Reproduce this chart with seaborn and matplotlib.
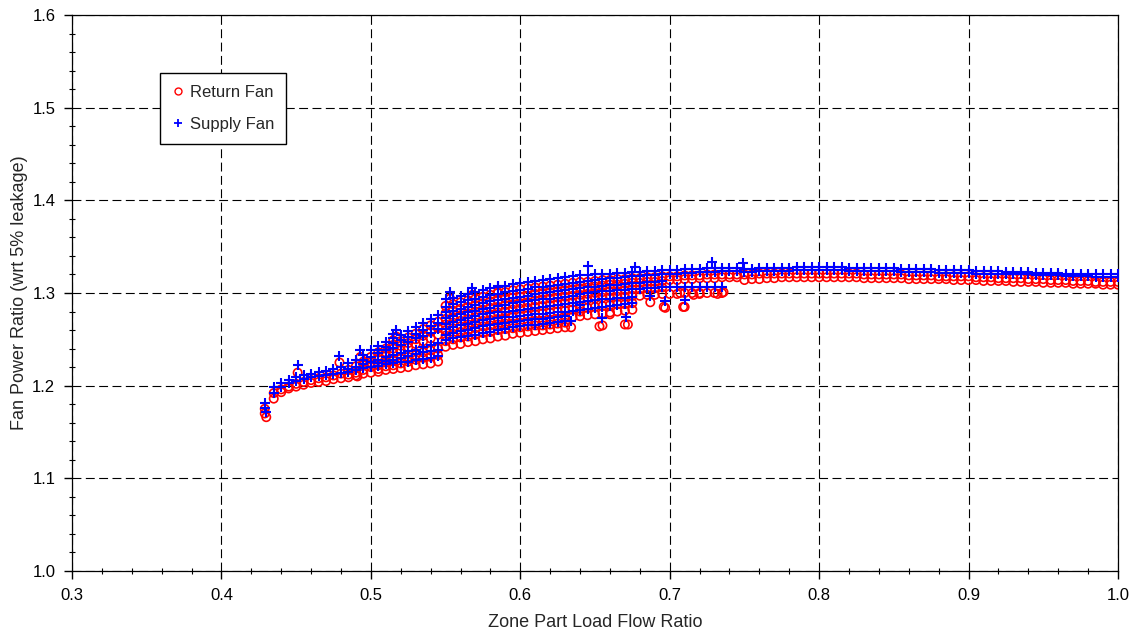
import matplotlib
matplotlib.use("Agg")
import matplotlib.pyplot as plt
from matplotlib.lines import Line2D
from matplotlib.ticker import MultipleLocator, FormatStrFormatter
import seaborn as sns
import pandas as pd

# ---------------- data ----------------
X_LEFT = [0.430, 0.435, 0.440, 0.445, 0.450, 0.455, 0.460, 0.465, 0.470, 0.475, 0.480, 0.485,
          0.490, 0.495, 0.500, 0.505, 0.510, 0.515, 0.520, 0.525, 0.530, 0.535, 0.540, 0.545]
X_MID = [0.550, 0.555, 0.560, 0.565, 0.570, 0.575, 0.580, 0.585, 0.590, 0.595,
         0.600, 0.605, 0.610, 0.615, 0.620, 0.625, 0.630, 0.635, 0.640, 0.645,
         0.650, 0.655, 0.660, 0.665, 0.670, 0.675, 0.680, 0.685, 0.690, 0.695,
         0.700, 0.705, 0.710, 0.715, 0.720, 0.725, 0.730, 0.735, 0.740, 0.745]
X_TAIL = [0.750, 0.755, 0.760, 0.765, 0.770, 0.775, 0.780, 0.785, 0.790, 0.795,
          0.800, 0.805, 0.810, 0.815, 0.820, 0.825, 0.830, 0.835, 0.840, 0.845,
          0.850, 0.855, 0.860, 0.865, 0.870, 0.875, 0.880, 0.885, 0.890, 0.895,
          0.900, 0.905, 0.910, 0.915, 0.920, 0.925, 0.930, 0.935, 0.940, 0.945,
          0.950, 0.955, 0.960, 0.965, 0.970, 0.975, 0.980, 0.985, 0.990, 0.995, 1.000]
N = None

# Return fan
RET_LEFT_1 = [1.166, 1.186, 1.193, 1.197, 1.199, 1.201, 1.203, 1.204, 1.205, 1.207, 1.208, 1.209,
              1.211, 1.213, 1.214, 1.215, 1.217, 1.218, 1.219, 1.220, 1.222, 1.223, 1.224, 1.226]
RET_LEFT_2 = [N, N, N, N, N, N, N, N, N, N, N, 1.212,
              1.214, 1.217, 1.220, 1.222, 1.225, 1.227, 1.229, 1.231, 1.233, 1.236, 1.238, 1.240]
RET_LEFT_3 = [N, N, N, N, N, N, N, N, N, N, N, N,
              N, 1.222, 1.225, 1.229, 1.232, 1.235, 1.238, 1.241, 1.245, 1.248, 1.251, 1.255]
RET_LEFT_4 = [N, 1.192, 1.196, 1.199, 1.202, 1.204, 1.206, 1.208, 1.209, 1.211, 1.213, 1.217,
              1.221, 1.226, 1.231, 1.236, 1.240, 1.244, 1.248, 1.252, 1.256, 1.261, 1.265, 1.269]
RET_LEFT_5 = [N, N, N, N, N, N, N, N, N, N, N, N, N, N, N,
              1.218, 1.221, 1.222, 1.224, 1.226, 1.228, 1.230, 1.231, 1.233]
RET_LEFT_6 = [N, N, N, N, N, N, N, N, N, N, N, N, N, N, N,
              1.232, 1.236, 1.240, 1.243, 1.246, 1.250, 1.254, 1.258, 1.262]

RET_MID_1 = [1.242, 1.244, 1.245, 1.247, 1.248, 1.250, 1.251, 1.253, 1.254, 1.256,
             1.257, 1.258, 1.259, 1.260, 1.261, 1.262, 1.263]
RET_MID_1B = [1.248, 1.250, 1.252, 1.253, 1.255, 1.257, 1.258, 1.260, 1.261, 1.262,
              1.263, 1.264, 1.265, 1.265, 1.266, 1.267, 1.268]
RET_MID_2 = [1.254, 1.256, 1.258, 1.260, 1.262, 1.264, 1.265, 1.266, 1.267, 1.267,
             1.268, 1.269, 1.270, 1.270, 1.271, 1.272, 1.273, 1.274, 1.275, 1.276,
             1.277, 1.278, 1.279, 1.280, 1.281, 1.282]
RET_MID_2B = [1.260, 1.262, 1.264, 1.266, 1.268, 1.270, 1.271, 1.272, 1.273, 1.274,
              1.275, 1.276, 1.277, 1.278, 1.279, 1.280, 1.281, 1.282, 1.283, 1.284,
              1.285, 1.286, 1.287, 1.288, 1.288, 1.289]
RET_MID_3 = [1.266, 1.268, 1.270, 1.272, 1.274, 1.276, 1.277, 1.279, 1.280, 1.282,
             1.283, 1.284, 1.285, 1.286, 1.287, 1.288, 1.289, 1.290, 1.292, 1.293,
             1.294, 1.295, 1.295, 1.296, 1.296, 1.297, 1.297, 1.298, 1.298, 1.299,
             1.299, 1.299, 1.300, 1.300, 1.300, 1.300, 1.300, 1.300]
RET_MID_3B = [1.272, 1.274, 1.276, 1.278, 1.280, 1.282, 1.284, 1.285, 1.287, 1.288,
              1.289, 1.290, 1.292, 1.293, 1.294, 1.295, 1.296, 1.297, 1.298, 1.299,
              1.300, 1.301, 1.302, 1.302, 1.303, 1.304, 1.304, 1.305, 1.305, 1.306]
RET_MID_4 = [1.278, 1.281, 1.283, 1.285, 1.287, 1.289, 1.291, 1.292, 1.294, 1.295,
             1.296, 1.297, 1.299, 1.300, 1.301, 1.302, 1.303, 1.304, 1.305, 1.306,
             1.307, 1.308, 1.309, 1.309, 1.310, 1.311, 1.311, 1.312, 1.312, 1.313,
             1.314, 1.314, 1.315, 1.315, 1.316, 1.316, 1.316, 1.317, 1.317, 1.317]
RET_MID_5 = [1.286, 1.288, 1.290, 1.292, 1.294, 1.296, 1.298, 1.300, 1.301, 1.303,
             1.304, 1.305, 1.306, 1.307, 1.308, 1.309, 1.310, 1.311, 1.312, 1.312,
             1.313, 1.314, 1.314, 1.315, 1.315, 1.316, 1.316, 1.317, 1.317, 1.318,
             1.318, 1.318, 1.319, 1.319, 1.319, 1.320, 1.320, 1.320, 1.320, 1.320]

RET_TAIL_1 = [1.320, 1.320, 1.321, 1.321, 1.321, 1.321, 1.321, 1.321, 1.321, 1.321,
              1.321, 1.321, 1.321, 1.321, 1.321, 1.321, 1.320, 1.320, 1.320, 1.320,
              1.320, 1.320, 1.319, 1.319, 1.319, 1.319, 1.318, 1.318, 1.318, 1.318,
              1.318, 1.317, 1.317, 1.317, 1.316, 1.316, 1.316, 1.316, 1.315, 1.315,
              1.315, 1.314, 1.314, 1.314, 1.313, 1.313, 1.313, 1.312, 1.312, 1.312, 1.312]
RET_TAIL_2 = [1.314, 1.315, 1.315, 1.316, 1.316, 1.317, 1.317, 1.317, 1.317, 1.317,
              1.317, 1.317, 1.317, 1.317, 1.317, 1.317, 1.316, 1.316, 1.316, 1.316,
              1.316, 1.316, 1.315, 1.315, 1.315, 1.315, 1.315, 1.315, 1.314, 1.314,
              1.314, 1.314, 1.313, 1.313, 1.313, 1.313, 1.312, 1.312, 1.312, 1.312,
              1.311, 1.311, 1.311, 1.311, 1.310, 1.310, 1.310, 1.310, 1.309, 1.309, 1.309]

RET_OUT_X = [0.429, 0.429, 0.451, 0.479, 0.491, 0.493, 0.515, 0.517, 0.553, 0.568,
             0.585, 0.634, 0.653, 0.655, 0.670, 0.672, 0.640, 0.660, 0.687, 0.696,
             0.697, 0.709, 0.710, 0.707, 0.716, 0.720, 0.732, 0.736]
RET_OUT_Y = [1.170, 1.175, 1.214, 1.225, 1.210, 1.231, 1.249, 1.253, 1.294, 1.298,
             1.301, 1.263, 1.264, 1.265, 1.266, 1.266, 1.280, 1.277, 1.290, 1.285,
             1.284, 1.285, 1.285, 1.300, 1.298, 1.299, 1.299, 1.301]

# Supply fan
SUP_LEFT_1 = [1.172, 1.192, 1.199, 1.203, 1.205, 1.207, 1.209, 1.210, 1.211, 1.213, 1.214, 1.215,
              1.217, 1.219, 1.220, 1.221, 1.223, 1.224, 1.225, 1.226, 1.228, 1.229, 1.230, 1.232]
SUP_LEFT_2 = [N, N, N, N, N, N, N, N, N, N, N, 1.218,
              1.220, 1.223, 1.226, 1.228, 1.231, 1.233, 1.235, 1.237, 1.239, 1.242, 1.244, 1.246]
SUP_LEFT_3 = [N, N, N, N, N, N, N, N, N, N, N, N,
              N, 1.228, 1.231, 1.235, 1.238, 1.241, 1.244, 1.247, 1.251, 1.254, 1.257, 1.261]
SUP_LEFT_4 = [N, 1.199, 1.203, 1.206, 1.209, 1.211, 1.213, 1.215, 1.216, 1.218, 1.220, 1.224,
              1.228, 1.233, 1.238, 1.243, 1.247, 1.251, 1.255, 1.259, 1.263, 1.268, 1.272, 1.276]
SUP_LEFT_5 = [N, N, N, N, N, N, N, N, N, N, N, N, N, N, N,
              1.224, 1.227, 1.228, 1.230, 1.232, 1.234, 1.236, 1.237, 1.239]
SUP_LEFT_6 = [N, N, N, N, N, N, N, N, N, N, N, N, N, N, N,
              1.238, 1.242, 1.246, 1.249, 1.252, 1.256, 1.260, 1.264, 1.268]

SUP_MID_1 = [1.249, 1.251, 1.252, 1.254, 1.255, 1.257, 1.258, 1.260, 1.261, 1.263,
             1.264, 1.265, 1.266, 1.267, 1.268, 1.269, 1.270]
SUP_MID_1B = [1.255, 1.257, 1.259, 1.260, 1.262, 1.264, 1.265, 1.267, 1.268, 1.269,
              1.270, 1.271, 1.272, 1.272, 1.273, 1.274, 1.275]
SUP_MID_2 = [1.261, 1.263, 1.265, 1.267, 1.269, 1.271, 1.272, 1.273, 1.274, 1.274,
             1.275, 1.276, 1.277, 1.277, 1.278, 1.279, 1.280, 1.281, 1.282, 1.283,
             1.284, 1.285, 1.286, 1.287, 1.288, 1.289]
SUP_MID_2B = [1.267, 1.269, 1.271, 1.273, 1.275, 1.277, 1.278, 1.279, 1.280, 1.281,
              1.282, 1.283, 1.284, 1.285, 1.286, 1.287, 1.288, 1.289, 1.290, 1.291,
              1.292, 1.293, 1.294, 1.295, 1.295, 1.296]
SUP_MID_3 = [1.273, 1.275, 1.277, 1.279, 1.281, 1.283, 1.284, 1.286, 1.287, 1.289,
             1.290, 1.291, 1.292, 1.293, 1.294, 1.295, 1.296, 1.297, 1.299, 1.300,
             1.301, 1.302, 1.302, 1.303, 1.303, 1.304, 1.304, 1.305, 1.305, 1.306,
             1.306, 1.306, 1.307, 1.307, 1.307, 1.307, 1.307, 1.307]
SUP_MID_3B = [1.279, 1.281, 1.283, 1.285, 1.287, 1.289, 1.291, 1.292, 1.294, 1.295,
              1.296, 1.297, 1.299, 1.300, 1.301, 1.302, 1.303, 1.304, 1.305, 1.306,
              1.307, 1.308, 1.309, 1.309, 1.310, 1.311, 1.311, 1.312, 1.312, 1.313]
SUP_MID_4 = [1.285, 1.288, 1.290, 1.292, 1.294, 1.296, 1.298, 1.299, 1.301, 1.302,
             1.303, 1.304, 1.306, 1.307, 1.308, 1.309, 1.310, 1.311, 1.312, 1.313,
             1.314, 1.315, 1.316, 1.316, 1.317, 1.318, 1.318, 1.319, 1.319, 1.320,
             1.321, 1.321, 1.322, 1.322, 1.323, 1.323, 1.323, 1.324, 1.324, 1.324]
SUP_MID_5 = [1.293, 1.295, 1.297, 1.299, 1.301, 1.303, 1.305, 1.307, 1.308, 1.310,
             1.311, 1.312, 1.313, 1.314, 1.315, 1.316, 1.317, 1.318, 1.319, 1.319,
             1.320, 1.321, 1.321, 1.322, 1.322, 1.323, 1.323, 1.324, 1.324, 1.325,
             1.325, 1.325, 1.326, 1.326, 1.326, 1.327, 1.327, 1.327, 1.327, 1.327]

SUP_TAIL_1 = [1.326, 1.326, 1.327, 1.327, 1.327, 1.327, 1.327, 1.328, 1.328, 1.328,
              1.328, 1.328, 1.328, 1.328, 1.327, 1.327, 1.327, 1.327, 1.327, 1.327,
              1.327, 1.326, 1.326, 1.326, 1.326, 1.326, 1.325, 1.325, 1.325, 1.325,
              1.325, 1.324, 1.324, 1.324, 1.324, 1.323, 1.323, 1.323, 1.323, 1.322,
              1.322, 1.322, 1.322, 1.321, 1.321, 1.321, 1.321, 1.320, 1.320, 1.320, 1.320]
SUP_TAIL_2 = [1.323, 1.323, 1.324, 1.324, 1.324, 1.324, 1.324, 1.325, 1.325, 1.325,
              1.325, 1.325, 1.325, 1.325, 1.324, 1.324, 1.324, 1.324, 1.324, 1.324,
              1.324, 1.323, 1.323, 1.323, 1.323, 1.323, 1.322, 1.322, 1.322, 1.322,
              1.322, 1.321, 1.321, 1.321, 1.321, 1.320, 1.320, 1.320, 1.320, 1.319,
              1.319, 1.319, 1.319, 1.318, 1.318, 1.318, 1.318, 1.317, 1.317, 1.317, 1.317]

SUP_OUT_X = [0.429, 0.429, 0.451, 0.479, 0.493, 0.515, 0.517, 0.553, 0.568, 0.585,
             0.634, 0.655, 0.671, 0.640, 0.687, 0.697, 0.710, 0.645, 0.677, 0.728, 0.749]
SUP_OUT_Y = [1.176, 1.181, 1.222, 1.232, 1.238, 1.256, 1.260, 1.301, 1.305, 1.308,
             1.270, 1.273, 1.274, 1.287, 1.297, 1.291, 1.292, 1.329, 1.328, 1.333, 1.332]

SERIES = ["Return Fan", "Supply Fan"]
X_TICKS = [0.3, 0.4, 0.5, 0.6, 0.7, 0.8, 0.9, 1.0]
Y_TICKS = [1.0, 1.1, 1.2, 1.3, 1.4, 1.5, 1.6]
X_LABEL = "Zone Part Load Flow Ratio"
Y_LABEL = "Fan Power Ratio (wrt 5% leakage)"


def collect(pairs, extra_x, extra_y):
    xs, ys = [], []
    for grid, vals in pairs:
        for x, y in zip(grid, vals):
            if y is not None:
                xs.append(x)
                ys.append(y)
    xs.extend(extra_x)
    ys.extend(extra_y)
    return pd.DataFrame({"x": xs, "y": ys})


ret_df = collect([(X_LEFT, RET_LEFT_1), (X_LEFT, RET_LEFT_2), (X_LEFT, RET_LEFT_3), (X_LEFT, RET_LEFT_4),
                  (X_LEFT, RET_LEFT_5), (X_LEFT, RET_LEFT_6),
                  (X_MID, RET_MID_1), (X_MID, RET_MID_1B), (X_MID, RET_MID_2), (X_MID, RET_MID_2B),
                  (X_MID, RET_MID_3), (X_MID, RET_MID_3B), (X_MID, RET_MID_4), (X_MID, RET_MID_5),
                  (X_TAIL, RET_TAIL_1), (X_TAIL, RET_TAIL_2)],
                 RET_OUT_X, RET_OUT_Y)
sup_df = collect([(X_LEFT, SUP_LEFT_1), (X_LEFT, SUP_LEFT_2), (X_LEFT, SUP_LEFT_3), (X_LEFT, SUP_LEFT_4),
                  (X_LEFT, SUP_LEFT_5), (X_LEFT, SUP_LEFT_6),
                  (X_MID, SUP_MID_1), (X_MID, SUP_MID_1B), (X_MID, SUP_MID_2), (X_MID, SUP_MID_2B),
                  (X_MID, SUP_MID_3), (X_MID, SUP_MID_3B), (X_MID, SUP_MID_4), (X_MID, SUP_MID_5),
                  (X_TAIL, SUP_TAIL_1), (X_TAIL, SUP_TAIL_2)],
                 SUP_OUT_X, SUP_OUT_Y)

# ---------------- drawing ----------------
sns.set_style("white")
plt.rcParams["font.family"] = ["Liberation Sans", "DejaVu Sans"]

fig = plt.figure(figsize=(11.4, 6.36), dpi=100)
ax = fig.add_axes([72 / 1140, 1 - 571 / 636, (1118 - 72) / 1140, (571 - 15) / 636])

sns.scatterplot(data=ret_df, x="x", y="y", ax=ax, marker="o", s=36,
                color="red", linewidth=1.2, zorder=3, legend=False)
coll = ax.collections[-1]
coll.set_facecolor("none")
coll.set_edgecolor("red")

sns.scatterplot(data=sup_df, x="x", y="y", ax=ax, marker="+", s=60,
                color="blue", linewidth=1.5, zorder=4, legend=False)

ax.set_xlim(0.3, 1.0)
ax.set_ylim(1.0, 1.6)
ax.set_xticks(X_TICKS)
ax.set_yticks(Y_TICKS)
ax.xaxis.set_major_formatter(FormatStrFormatter("%.1f"))
ax.yaxis.set_major_formatter(FormatStrFormatter("%.1f"))
ax.xaxis.set_minor_locator(MultipleLocator(0.02))
ax.yaxis.set_minor_locator(MultipleLocator(0.02))
ax.tick_params(axis="both", which="major", direction="out", length=6, width=1,
               color="black", labelsize=12, labelcolor="black", pad=6)
ax.tick_params(axis="both", which="minor", direction="inout", length=5, width=0.8,
               color="black")
ax.tick_params(axis="x", which="both", bottom=True, top=False)
ax.tick_params(axis="y", which="both", left=True, right=False)

ax.grid(True, which="major", color="black", linestyle=(0, (8, 4)), linewidth=0.8)
ax.set_axisbelow(True)
for sp in ax.spines.values():
    sp.set_color("black")
    sp.set_linewidth(0.9)
    sp.set_visible(True)

ax.set_xlabel(X_LABEL, fontsize=13)
ax.set_ylabel(Y_LABEL, fontsize=13)
ax.xaxis.set_label_coords(0.5, (571 - 614) / 556)
ax.yaxis.set_label_coords((28 - 72) / 1046, 0.5)

handles = [
    Line2D([], [], linestyle="none", marker="o", markerfacecolor="none",
           markeredgecolor="red", markersize=5, markeredgewidth=1.0),
    Line2D([], [], linestyle="none", marker="+", color="blue",
           markersize=6, markeredgewidth=1.3),
]
leg = ax.legend(handles, SERIES, loc="upper left",
                bbox_to_anchor=((160 - 72) / 1046, (571 - 73) / 556),
                borderaxespad=0, fontsize=12, frameon=True, fancybox=False,
                edgecolor="black", framealpha=1, handlelength=0.8,
                handletextpad=0.3, labelspacing=1.05, borderpad=0.7)
leg.get_frame().set_linewidth(1.0)

fig.savefig("out.png", dpi=100)
